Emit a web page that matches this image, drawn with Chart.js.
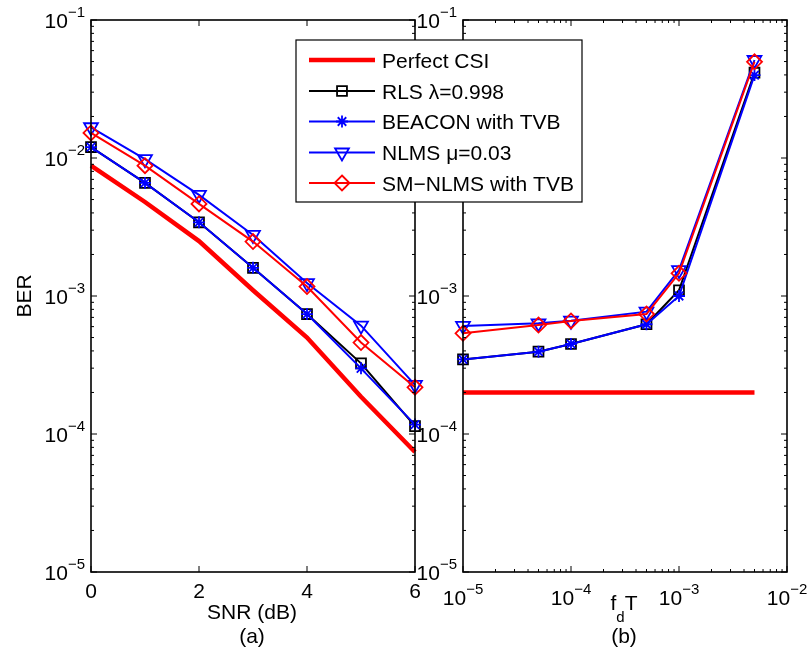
<!DOCTYPE html>
<html><head><meta charset="utf-8">
<script src="https://cdn.jsdelivr.net/npm/chart.js@4/dist/chart.umd.min.js"></script>
<style>
html,body{margin:0;padding:0;background:#fff;}
#wrap{position:relative;width:807px;height:654px;background:#fff;}
canvas{position:absolute;left:0;top:0;}
</style></head><body>
<div id="wrap"><canvas id="ca" width="807" height="654"></canvas><canvas id="cb" width="807" height="654"></canvas></div>
<script>
// ---- data: panel (a) ----
const snr = [0, 1, 2, 3, 4, 5, 6];
const perfectA = [8.8e-3, 4.8e-3, 2.5e-3, 1.1e-3, 5.0e-4, 1.86e-4, 7.4e-5];
const rlsA     = [1.2e-2, 6.6e-3, 3.42e-3, 1.6e-3, 7.4e-4, 3.25e-4, 1.14e-4];
const beaconA  = [1.2e-2, 6.6e-3, 3.42e-3, 1.6e-3, 7.4e-4, 2.99e-4, 1.17e-4];
const nlmsA    = [1.67e-2, 9.8e-3, 5.4e-3, 2.77e-3, 1.24e-3, 6.1e-4, 2.27e-4];
const smnlmsA  = [1.52e-2, 8.8e-3, 4.65e-3, 2.48e-3, 1.17e-3, 4.6e-4, 2.18e-4];
// ---- data: panel (b) ----
const fdT = [1e-5, 5e-5, 1e-4, 5e-4, 1e-3, 5e-3];
const perfectB = [2e-4, 2e-4, 2e-4, 2e-4, 2e-4, 2e-4];
const rlsB     = [3.47e-4, 3.95e-4, 4.49e-4, 6.24e-4, 1.1e-3, 4.15e-2];
const beaconB  = [3.47e-4, 3.95e-4, 4.49e-4, 6.24e-4, 1.0e-3, 3.99e-2];
const nlmsB    = [6.07e-4, 6.34e-4, 6.62e-4, 7.7e-4, 1.54e-3, 5.13e-2];
const smnlmsB  = [5.37e-4, 6.16e-4, 6.6e-4, 7.4e-4, 1.46e-3, 4.98e-2];
// ---- labels / ticks ----
const seriesNames = ['Perfect CSI', 'RLS \u03bb=0.998', 'BEACON with TVB', 'NLMS \u03bc=0.03', 'SM\u2212NLMS with TVB'];
const snrTicks = [0, 2, 4, 6];
const berDecades = [-5, -4, -3, -2, -1];
const fdDecades = [-5, -4, -3, -2];

const FONT = '"Liberation Sans", Arial, Helvetica, sans-serif';
const styles = [
  {color:'#ff0000', width:4.5, point:null, r:0, rot:0},
  {color:'#000000', width:2, point:'rect', r:7, rot:0},
  {color:'#0000ff', width:2, point:'star', r:6, rot:0},
  {color:'#0000ff', width:2, point:'triangle', r:8, rot:180},
  {color:'#ff0000', width:2, point:'rectRot', r:7.5, rot:0}
];
const MARKER_LW = 1.8;

function ds(i, xs, ys){
  const s = styles[i];
  return {
    label: seriesNames[i],
    data: xs.map((x, k) => ({x: x, y: ys[k]})),
    borderColor: s.color, backgroundColor: 'transparent',
    borderWidth: s.width,
    pointStyle: s.point || 'circle', pointRadius: s.point ? s.r : 0,
    pointBorderColor: s.color, pointBackgroundColor: 'transparent',
    pointBorderWidth: MARKER_LW, pointRotation: s.rot,
    tension: 0, fill: false, clip: false, order: 5 - i
  };
}

function drawMarker(ctx, s, x, y){
  if (!s.point) return;
  ctx.save();
  ctx.strokeStyle = s.color; ctx.lineWidth = MARKER_LW;
  ctx.beginPath();
  const r = s.r;
  if (s.point === 'rect'){
    const h = r * Math.SQRT1_2; ctx.rect(x - h, y - h, 2*h, 2*h);
  } else if (s.point === 'rectRot'){
    ctx.moveTo(x, y - r); ctx.lineTo(x + r, y); ctx.lineTo(x, y + r); ctx.lineTo(x - r, y); ctx.closePath();
  } else if (s.point === 'triangle'){
    let a = s.rot * Math.PI / 180;
    for (let k = 0; k < 3; k++){
      const px = x + Math.sin(a) * r, py = y - Math.cos(a) * r;
      if (k === 0) ctx.moveTo(px, py); else ctx.lineTo(px, py);
      a += 2 * Math.PI / 3;
    }
    ctx.closePath();
  } else if (s.point === 'star'){
    ctx.moveTo(x, y - r); ctx.lineTo(x, y + r);
    ctx.moveTo(x - r, y); ctx.lineTo(x + r, y);
    const d = r * Math.SQRT1_2;
    ctx.moveTo(x - d, y - d); ctx.lineTo(x + d, y + d);
    ctx.moveTo(x - d, y + d); ctx.lineTo(x + d, y - d);
  }
  ctx.stroke();
  ctx.restore();
}

function powLabel(ctx, e, x, baseY, align){
  const big = '21px ' + FONT, small = '15px ' + FONT;
  const sup = '\u2212' + Math.abs(e);
  ctx.font = big; const w1 = ctx.measureText('10').width;
  ctx.font = small; const w2 = ctx.measureText(sup).width;
  const tot = w1 + w2;
  let x0 = align === 'right' ? x - tot : x - tot / 2;
  ctx.textAlign = 'left'; ctx.textBaseline = 'alphabetic';
  ctx.font = big; ctx.fillText('10', x0, baseY);
  ctx.font = small; ctx.fillText(sup, x0 + w1, baseY - 11);
}

function axesPlugin(cfg){
  return {
    id: 'axesDraw' + cfg.name,
    afterDraw(chart){
      const ctx = chart.ctx;
      const {left, right, top, bottom} = chart.chartArea;
      const xs = chart.scales.x, ys = chart.scales.y;
      ctx.save();
      ctx.fillStyle = '#000'; ctx.strokeStyle = '#000';
      ctx.lineWidth = 1.6;
      ctx.strokeRect(left, top, right - left, bottom - top);
      ctx.lineWidth = 1;
      const MAJ = 6, MIN = 3;
      function vt(px, len){ ctx.beginPath(); ctx.moveTo(px, bottom); ctx.lineTo(px, bottom - len); ctx.moveTo(px, top); ctx.lineTo(px, top + len); ctx.stroke(); }
      function ht(py, len){ ctx.beginPath(); ctx.moveTo(left, py); ctx.lineTo(left + len, py); ctx.moveTo(right, py); ctx.lineTo(right - len, py); ctx.stroke(); }
      berDecades.forEach(e => {
        const py = ys.getPixelForValue(Math.pow(10, e));
        ht(py, MAJ);
        if (e < -1) for (let m = 2; m <= 9; m++) ht(ys.getPixelForValue(m * Math.pow(10, e)), MIN);
        powLabel(ctx, e, left - 6, py + 8, 'right');
      });
      if (cfg.xLog){
        fdDecades.forEach(e => {
          const px = xs.getPixelForValue(Math.pow(10, e));
          vt(px, MAJ);
          if (e < -2) for (let m = 2; m <= 9; m++) vt(xs.getPixelForValue(m * Math.pow(10, e)), MIN);
          powLabel(ctx, e, px, 605, 'center');
        });
      } else {
        ctx.font = '21px ' + FONT; ctx.textAlign = 'center'; ctx.textBaseline = 'alphabetic';
        snrTicks.forEach(v => {
          const px = xs.getPixelForValue(v);
          vt(px, MAJ);
          ctx.fillText(String(v), px, 598);
        });
      }
      cfg.extra && cfg.extra(ctx, chart);
      ctx.restore();
    }
  };
}

const baseOpts = (pad, xType, xmin, xmax) => ({
  responsive: false, animation: false, devicePixelRatio: 1, events: [],
  layout: {padding: pad},
  plugins: {legend: {display: false}, tooltip: {enabled: false}},
  scales: {
    x: {type: xType, min: xmin, max: xmax, display: false},
    y: {type: 'logarithmic', min: 1e-5, max: 1e-1, display: false}
  }
});

new Chart(document.getElementById('ca'), {
  type: 'line',
  data: {datasets: [ds(0, snr, perfectA), ds(1, snr, rlsA), ds(2, snr, beaconA), ds(3, snr, nlmsA), ds(4, snr, smnlmsA)]},
  options: baseOpts({left: 91, top: 20, right: 392, bottom: 82}, 'linear', 0, 6),
  plugins: [axesPlugin({name: 'a', xLog: false, extra(ctx, chart){
    const {left, right} = chart.chartArea; const cx = (left + right) / 2;
    ctx.font = '21px ' + FONT; ctx.textAlign = 'center'; ctx.textBaseline = 'alphabetic';
    ctx.fillText('SNR (dB)', cx - 1, 619);
    ctx.fillText('(a)', cx - 1, 643);
    ctx.save(); ctx.translate(31, (chart.chartArea.top + chart.chartArea.bottom) / 2); ctx.rotate(-Math.PI / 2);
    ctx.fillText('BER', 0, 0); ctx.restore();
  }})]
});

new Chart(document.getElementById('cb'), {
  type: 'line',
  data: {datasets: [ds(0, fdT, perfectB), ds(1, fdT, rlsB), ds(2, fdT, beaconB), ds(3, fdT, nlmsB), ds(4, fdT, smnlmsB)]},
  options: baseOpts({left: 463, top: 20, right: 20, bottom: 82}, 'logarithmic', 1e-5, 1e-2),
  plugins: [axesPlugin({name: 'b', xLog: true, extra(ctx, chart){
    const {left, right} = chart.chartArea; const cx = (left + right) / 2;
    ctx.textAlign = 'left'; ctx.textBaseline = 'alphabetic';
    const big = '21px ' + FONT, small = '15px ' + FONT;
    ctx.font = big; const wf = ctx.measureText('f').width, wT = ctx.measureText('T').width;
    ctx.font = small; const wd = ctx.measureText('d').width;
    let x0 = cx - 1 - (wf + wd + wT) / 2;
    ctx.font = big; ctx.fillText('f', x0, 610);
    ctx.font = small; ctx.fillText('d', x0 + wf, 622);
    ctx.font = big; ctx.fillText('T', x0 + wf + wd, 610);
    ctx.textAlign = 'center';
    ctx.fillText('(b)', cx - 1, 643);
    // legend box
    const bx = 296, by = 40, bw = 286, bh = 162;
    ctx.fillStyle = '#fff'; ctx.fillRect(bx, by, bw, bh);
    ctx.strokeStyle = '#000'; ctx.lineWidth = 1.2; ctx.strokeRect(bx, by, bw, bh);
    const rows = [60, 91, 121.5, 152.5, 183];
    ctx.textAlign = 'left'; ctx.font = big;
    seriesNames.forEach((name, i) => {
      const s = styles[i], y = rows[i];
      ctx.strokeStyle = s.color; ctx.lineWidth = s.width;
      ctx.beginPath(); ctx.moveTo(309, y); ctx.lineTo(375, y); ctx.stroke();
      drawMarker(ctx, s, 342, y);
      ctx.fillStyle = '#000'; ctx.fillText(name, 382, y + 7.5);
    });
  }})]
});
</script>
</body></html>
